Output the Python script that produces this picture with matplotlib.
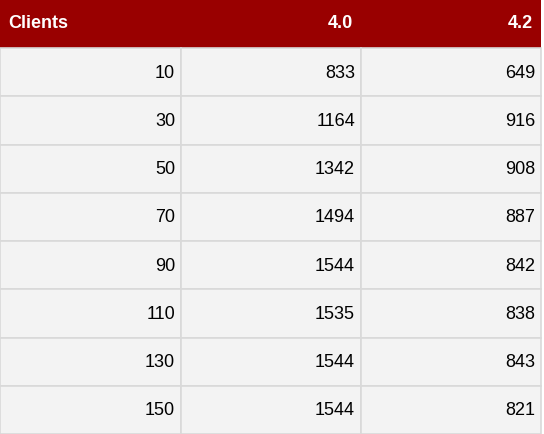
import matplotlib
matplotlib.use("Agg")
import matplotlib.pyplot as plt
from matplotlib.patches import Rectangle

columns = ["Clients", "4.0", "4.2"]
clients = [10, 30, 50, 70, 90, 110, 130, 150]
v40 = [833, 1164, 1342, 1494, 1544, 1535, 1544, 1544]
v42 = [649, 916, 908, 887, 842, 838, 843, 821]

W, H = 544, 434
fig = plt.figure(figsize=(W/100, H/100), dpi=100)
ax = fig.add_axes([0, 0, 1, 1])
ax.set_xlim(0, W); ax.set_ylim(H, 0); ax.axis("off")
plt.rcParams['font.family'] = ['Liberation Sans', 'DejaVu Sans']

colx = [0, 181, 361, 541]
hh = 48
rh = (H - hh) / len(clients)

ax.add_patch(Rectangle((0, 0), colx[-1], hh, facecolor="#990000", edgecolor="none"))
for j, c in enumerate(columns):
    if j == 0:
        ax.text(colx[0] + 8, hh/2, c, color="white", fontsize=13, fontweight="bold", ha="left", va="center")
    else:
        ax.text(colx[j+1] - 8, hh/2, c, color="white", fontsize=13, fontweight="bold", ha="right", va="center")

rows = list(zip(clients, v40, v42))
for i, r in enumerate(rows):
    y = hh + i*rh
    for j, v in enumerate(r):
        ax.add_patch(Rectangle((colx[j], y), colx[j+1]-colx[j], rh, facecolor="#f3f3f3",
                               edgecolor="#d9d9d9", linewidth=1.2))
        ax.text(colx[j+1] - 6, y + rh/2 + 1, str(v), color="black", fontsize=13, ha="right", va="center")

fig.savefig("out.png", dpi=100)
